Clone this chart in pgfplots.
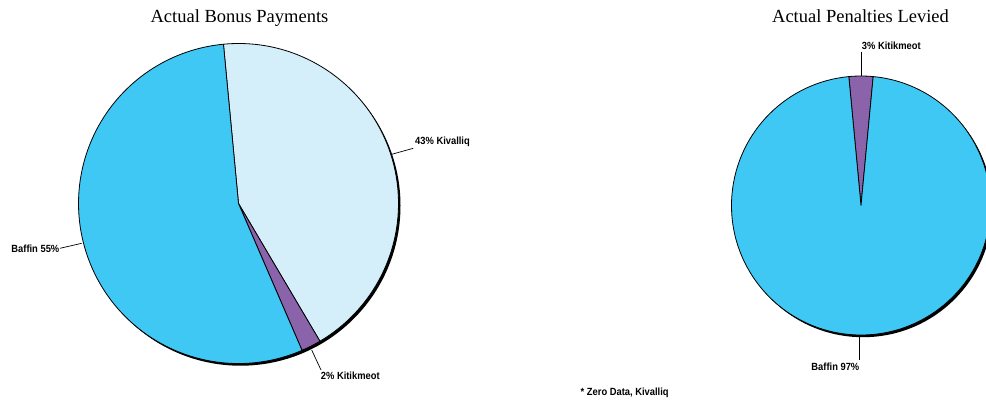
\documentclass[border=0pt]{standalone}
\usepackage{fontspec}
\setmainfont{Liberation Serif}
\newfontfamily\labelfont[FakeStretch=0.9]{Liberation Sans}
\usepackage{pgfplots}
\usepackage{pgfplotstable}
\pgfplotsset{compat=1.18}

\definecolor{baffin}{HTML}{40C8F4}
\definecolor{kivalliq}{HTML}{D4EEFA}
\definecolor{kitikmeot}{HTML}{8A63AB}

% shares in percent, drawn clockwise from the start angle
\pgfplotstableread{
region value colour
Kivalliq 43 kivalliq
Kitikmeot 2 kitikmeot
Baffin 55 baffin
}\bonustable

\pgfplotstableread{
region value colour
Kitikmeot 3 kitikmeot
Baffin 97 baffin
}\penaltytable

% #1 table, #2 cx, #3 cy, #4 radius, #5 start angle
\newcommand\drawpie[5]{%
  \fill[black] (axis cs:#2+2,#3-2.2) circle[radius=#4pt];
  \pgfplotstablegetrowsof{#1}%
  \pgfmathtruncatemacro\nrows{\pgfplotsretval-1}%
  \xdef\curangle{#5}%
  \foreach \i in {0,...,\nrows}{%
    \pgfplotstablegetelem{\i}{value}\of{#1}\let\val\pgfplotsretval
    \pgfplotstablegetelem{\i}{colour}\of{#1}\let\col\pgfplotsretval
    \pgfmathsetmacro\endangle{\curangle-3.6*\val}%
    \filldraw[fill=\col, draw=black, line width=0.8pt, line join=round]
      (axis cs:#2,#3) -- ++(\curangle:#4pt)
      arc[start angle=\curangle, end angle=\endangle, radius=#4pt] -- cycle;
    \xdef\curangle{\endangle}%
  }%
}

\tikzset{lbl/.style={font=\labelfont\bfseries\fontsize{10.4}{12}\selectfont, inner sep=0pt}}

\begin{document}
\begin{tikzpicture}
\begin{axis}[
  hide axis, scale only axis,
  width=986pt, height=402pt,
  xmin=0, xmax=986, ymin=0, ymax=402,
]
\pgfplotsextra{
  \drawpie{\bonustable}{238.5}{198.5}{160}{95.4}
  \drawpie{\penaltytable}{861}{196.5}{129.5}{95.4}
}
% titles
\node[anchor=base, font=\fontsize{18.5}{20}\selectfont, inner sep=0pt] at (axis cs:239.5,379) {Actual Bonus Payments};
\node[anchor=base, font=\fontsize{18.5}{20}\selectfont, inner sep=0pt] at (axis cs:860.5,379) {Actual Penalties Levied};
% slice labels and leaders
\draw[line width=0.7pt] (axis cs:391.7,247.7) -- (axis cs:413.3,253.7);
\node[lbl, anchor=base west] at (axis cs:415,257.7) {43\% Kivalliq};
\draw[line width=0.7pt] (axis cs:60,153.7) -- (axis cs:81.7,158.7);
\node[lbl, anchor=base east] at (axis cs:59.5,149) {Baffin 55\%};
\draw[line width=0.7pt] (axis cs:311.7,52) -- (axis cs:321,32);
\node[lbl, anchor=base west] at (axis cs:320.7,22.7) {2\% Kitikmeot};
\draw[line width=0.7pt] (axis cs:861.7,350.3) -- (axis cs:861.7,326);
\node[lbl, anchor=base west] at (axis cs:861.7,352.7) {3\% Kitikmeot};
\draw[line width=0.7pt] (axis cs:859.3,65.3) -- (axis cs:859.3,42);
\node[lbl, anchor=base east] at (axis cs:859.5,31) {Baffin 97\%};
\node[lbl, anchor=base west] at (axis cs:580.5,6) {* Zero Data, Kivalliq};
\end{axis}
\pgfresetboundingbox
\path[use as bounding box] (0,0) rectangle (986pt,402pt);
\end{tikzpicture}
\end{document}
